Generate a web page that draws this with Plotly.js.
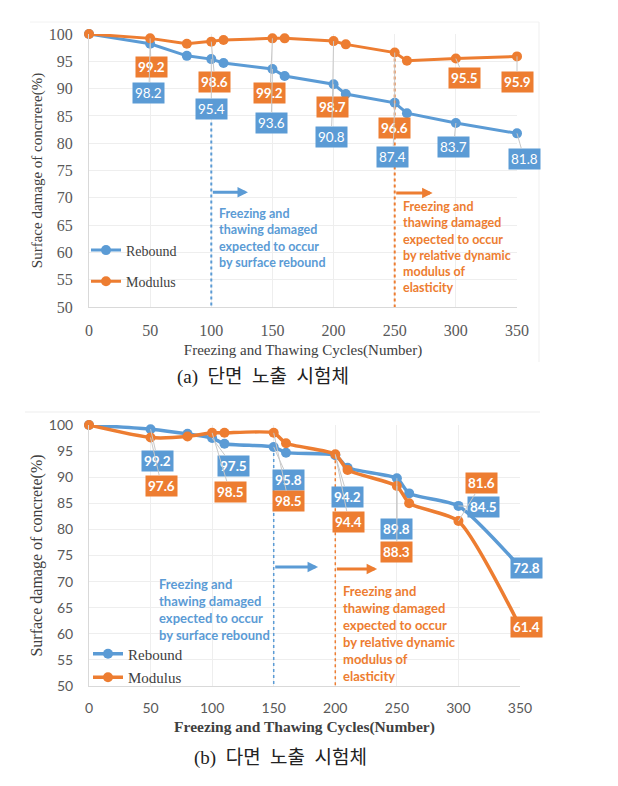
<!DOCTYPE html>
<html>
<head>
<meta charset="utf-8">
<script src="https://cdn.plot.ly/plotly-3.0.1.min.js"></script>
<style>html,body{margin:0;padding:0;background:#fff;}#chart{width:618px;height:786px;}</style>
</head>
<body>
<div id="chart"></div>
<script>
// ---- data ----
const cycles = [0, 50, 80, 100, 110, 150, 160, 200, 210, 250, 260, 300, 350];
const reboundA = [100, 98.2, 96.0, 95.4, 94.7, 93.6, 92.3, 90.8, 89.0, 87.4, 85.5, 83.7, 81.8];
const modulusA = [100, 99.2, 98.2, 98.6, 98.9, 99.2, 99.2, 98.7, 98.1, 96.6, 95.1, 95.5, 95.9];
const reboundB = [100, 99.2, 98.3, 97.5, 96.4, 95.8, 94.7, 94.2, 91.8, 89.8, 86.9, 84.5, 72.8];
const modulusB = [100, 97.6, 97.8, 98.5, 98.5, 98.5, 96.5, 94.4, 91.4, 88.3, 85.0, 81.6, 61.4];
const labeledIdx = [1, 3, 5, 7, 9, 11, 12];
const seriesNames = ['Rebound', 'Modulus'];
const xTitle = 'Freezing and Thawing Cycles(Number)';
const yTitleA = 'Surface damage of concrrere(%)';
const yTitleB = 'Surface damage of concrete(%)';
const captionA = '(a) 단면 노출 시험체';
const captionB = '(b) 다면 노출 시험체';
const noteRebound = 'Freezing and<br>thawing damaged<br>expected to occur<br>by surface rebound';
const noteModulus = 'Freezing and<br>thawing damaged<br>expected to occur<br>by relative dynamic<br>modulus of<br>elasticity';
const thresholdA = {rebound: 100, modulus: 250};
const thresholdB = {rebound: 150, modulus: 200};

// ---- label placement (layout only) ----
const rebLblA = [[49,89.2],[100,86.3],[149,83.7],[198,81.2],[248.5,77.5],[298,79.3],[356,77.1]];
const modLblA = [[50.7,94.0],[103,91.2],[148,89.2],[199,86.6],[250,82.8],[307,91.9],[350,91.2]];
const rebLblB = [[56,93.1],[117,92.1],[162,89.5],[210,86.2],[250,80.1],[320,84.3],[355,72.6]];
const modLblB = [[59,88.3],[114.5,87.2],[162,85.4],[211,81.5],[250,75.7],[319,88.9],[355,61.3]];

const BLUE = '#5B9BD5', ORANGE = '#ED7D31';
const SERIF = 'Liberation Serif, Times New Roman, serif';
const SANS = 'Lato, Open Sans, sans-serif';
const KR = 'Liberation Serif, Noto Sans CJK KR, serif';

function trace(y, name, color, xa, ya, legend, spline, w) {
  return {
    x: cycles, y: y, name: name, type: 'scatter', mode: 'lines+markers',
    xaxis: xa, yaxis: ya, legend: legend, legendgroup: legend + name,
    line: {color: color, width: w, shape: spline ? 'spline' : 'linear', smoothing: 0.6},
    marker: {color: color, size: 10},
    cliponaxis: false
  };
}

const data = [
  trace(reboundA, seriesNames[0], BLUE, 'x', 'y', 'legend', false, 3),
  trace(modulusA, seriesNames[1], ORANGE, 'x', 'y', 'legend', false, 3),
  trace(reboundB, seriesNames[0], BLUE, 'x2', 'y2', 'legend2', true, 3.5),
  trace(modulusB, seriesNames[1], ORANGE, 'x2', 'y2', 'legend2', true, 3.5)
];

const annotations = [];
function labels(vals, pos, color, xa, ya, bold) {
  labeledIdx.forEach((idx, k) => {
    const v = vals[idx];
    annotations.push({
      xref: xa, yref: ya, x: cycles[idx], y: v,
      axref: xa, ayref: ya, ax: pos[k][0], ay: pos[k][1],
      text: bold ? '<b>' + v.toFixed(1) + '</b>' : v.toFixed(1),
      showarrow: true, arrowhead: 0, arrowwidth: 1, arrowcolor: '#c8c8c8',
      standoff: 0, bgcolor: color, borderpad: 2,
      font: {family: SANS, size: 13.5, color: '#ffffff'}
    });
  });
}
labels(modulusA, modLblA, ORANGE, 'x', 'y', true);
labels(reboundA, rebLblA, BLUE, 'x', 'y', false);
labels(reboundB, rebLblB, BLUE, 'x2', 'y2', true);
labels(modulusB, modLblB, ORANGE, 'x2', 'y2', true);

function arrow(xa, ya, x0, x1, y, color) {
  annotations.push({xref: xa, yref: ya, x: x1, y: y, axref: xa, ayref: ya, ax: x0, ay: y,
    text: '', showarrow: true, arrowhead: 2, arrowsize: 0.7, arrowwidth: 3, arrowcolor: color, standoff: 0});
}
arrow('x', 'y', thresholdA.rebound, 130, 71.0, BLUE);
arrow('x', 'y', thresholdA.modulus, 281, 70.9, ORANGE);
arrow('x2', 'y2', thresholdB.rebound, 186, 72.8, BLUE);
arrow('x2', 'y2', thresholdB.modulus, 234, 72.4, ORANGE);

function note(xa, ya, x, y, txt, color, size) {
  annotations.push({xref: xa, yref: ya, x: x, y: y, xanchor: 'left', yanchor: 'middle', align: 'left',
    text: '<b>' + txt + '</b>', showarrow: false, font: {family: SANS, size: size, color: color}});
}
note('x', 'y', 104.5, 62.6, noteRebound, BLUE, 12.5);
note('x', 'y', 255, 60.9, noteModulus, ORANGE, 12.5);
note('x2', 'y2', 55, 64.7, noteRebound, BLUE, 13);
note('x2', 'y2', 205, 60.1, noteModulus, ORANGE, 13);

function caption(txt, cx, cy) {
  annotations.push({xref: 'paper', yref: 'paper', x: cx / 618, y: 1 - cy / 786,
    text: txt.split(' ').join('&nbsp;&nbsp;'), showarrow: false,
    font: {family: KR, size: 19, color: '#222'}});
}
caption(captionA, 263, 377);
caption(captionB, 280, 771);

const shapes = [
  {type: 'line', xref: 'x', yref: 'y', x0: thresholdA.rebound, x1: thresholdA.rebound, y0: 83.8, y1: 50, line: {color: BLUE, width: 2, dash: 'dot'}},
  {type: 'line', xref: 'x', yref: 'y', x0: thresholdA.modulus, x1: thresholdA.modulus, y0: 96.6, y1: 50, line: {color: ORANGE, width: 2, dash: 'dot'}},
  {type: 'line', xref: 'x2', yref: 'y2', x0: thresholdB.rebound, x1: thresholdB.rebound, y0: 95.8, y1: 50, line: {color: BLUE, width: 1.5, dash: 'dot'}},
  {type: 'line', xref: 'x2', yref: 'y2', x0: thresholdB.modulus, x1: thresholdB.modulus, y0: 94.4, y1: 50, line: {color: ORANGE, width: 1.5, dash: 'dot'}},
  {type: 'line', xref: 'paper', yref: 'paper', x0: 539/618, x1: 539/618, y0: 1 - 22/786, y1: 1 - 362/786, line: {color: '#efefef', width: 1}},
  {type: 'line', xref: 'paper', yref: 'paper', x0: 30/618, x1: 539/618, y0: 1 - 22/786, y1: 1 - 22/786, line: {color: '#f2f2f2', width: 1}},
  {type: 'line', xref: 'paper', yref: 'paper', x0: 25/618, x1: 540/618, y0: 1 - 412/786, y1: 1 - 412/786, line: {color: '#ededed', width: 1}}
];

function xaxis(domain, anchor, tfont, titleFont) {
  return {domain: domain, anchor: anchor, range: [0, 350], tick0: 0, dtick: 50,
    showgrid: true, gridcolor: '#eeeeee', zeroline: false, showline: true, linecolor: '#d9d9d9',
    ticks: '', ticklabelstandoff: 9, tickfont: tfont,
    title: {text: xTitle, font: titleFont, standoff: 6}};
}
function yaxis(domain, anchor, tfont, title, titleFont) {
  return {domain: domain, anchor: anchor, range: [50, 100], tick0: 50, dtick: 5,
    showgrid: true, gridcolor: '#eeeeee', zeroline: false, showline: true, linecolor: '#d9d9d9',
    ticks: '', ticklabelstandoff: 12, tickfont: tfont,
    title: {text: title, font: titleFont, standoff: 2}};
}

const layout = {
  width: 618, height: 786, margin: {l: 0, r: 0, t: 0, b: 0},
  paper_bgcolor: '#ffffff', plot_bgcolor: '#ffffff', showlegend: true,
  xaxis: xaxis([89/618, 517/618], 'y', {family: SERIF, size: 16, color: '#595959'}, {family: SERIF, size: 15, color: '#404040'}),
  yaxis: yaxis([1 - 307/786, 1 - 34/786], 'x', {family: SERIF, size: 16, color: '#595959'}, yTitleA, {family: SERIF, size: 15, color: '#404040'}),
  xaxis2: xaxis([89/618, 520/618], 'y2', {family: SANS, size: 14, color: '#595959'}, {family: SERIF, size: 15.5, color: '#404040', weight: 'bold'}),
  yaxis2: yaxis([1 - 686/786, 1 - 425/786], 'x2', {family: SANS, size: 14, color: '#595959'}, yTitleB, {family: SERIF, size: 16, color: '#404040'}),
  legend: {x: 86/618, y: 1 - 266/786, xanchor: 'left', yanchor: 'middle', bgcolor: 'rgba(0,0,0,0)',
    itemwidth: 30, tracegroupgap: 10, font: {family: SERIF, size: 14, color: '#404040'}},
  legend2: {x: 88/618, y: 1 - 665.5/786, xanchor: 'left', yanchor: 'middle', bgcolor: 'rgba(0,0,0,0)',
    itemwidth: 30, tracegroupgap: 1, font: {family: SERIF, size: 15, color: '#404040'}},
  annotations: annotations, shapes: shapes
};

Plotly.newPlot('chart', data, layout, {staticPlot: true});
</script>
</body>
</html>
